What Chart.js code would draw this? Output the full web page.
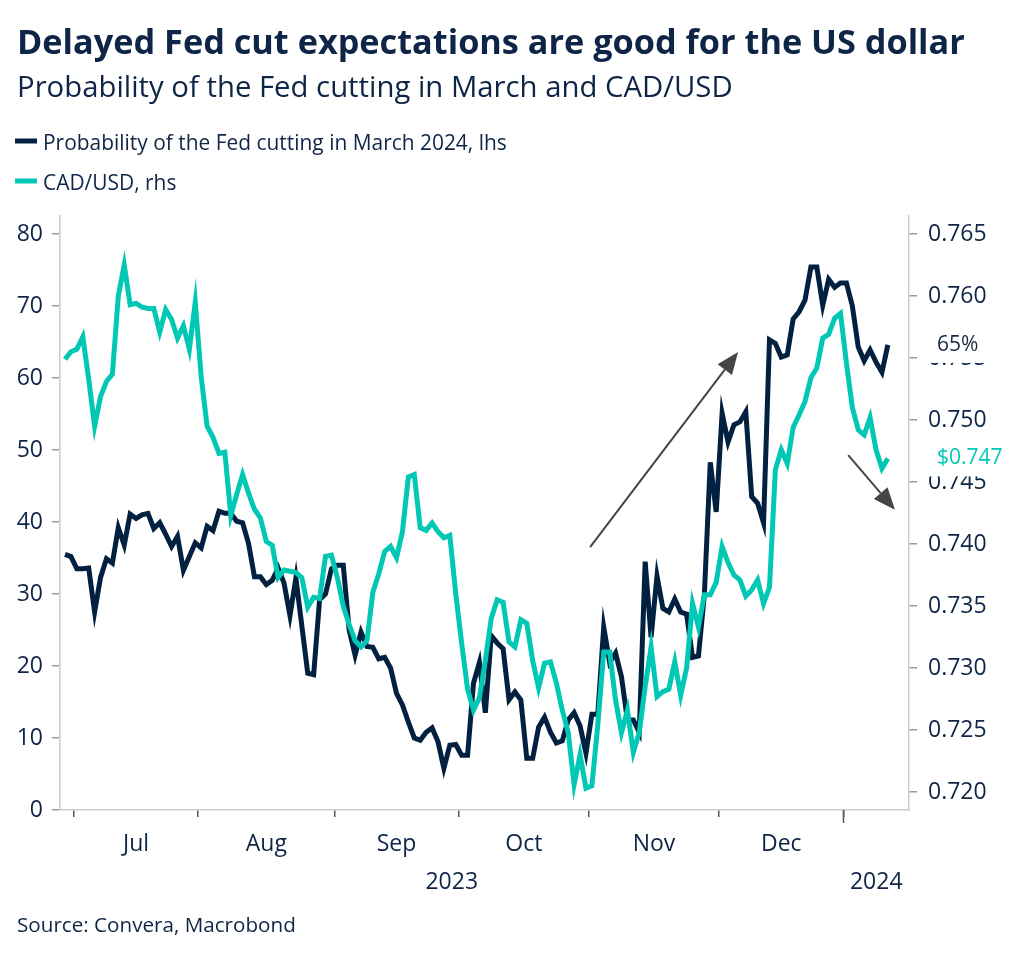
<!DOCTYPE html>
<html>
<head>
<meta charset="utf-8">
<script src="https://cdn.jsdelivr.net/npm/chart.js@4.4.1/dist/chart.umd.min.js"></script>
<style>
  html, body { margin: 0; padding: 0; background: #fff; }
</style>
</head>
<body>
<canvas id="grafico" width="1024" height="958"></canvas>
<script>
var titulo = 'Delayed Fed cut expectations are good for the US dollar';
var subtitulo = 'Probability of the Fed cutting in March and CAD/USD';
var fuente = 'Source: Convera, Macrobond';
var etiquetasSeries = ['Probability of the Fed cutting in March 2024, lhs', 'CAD/USD, rhs'];
var colores = ['#02203f', '#00c8b4'];
var azulTexto = '#0f2548';

var meses = ['Jul', 'Aug', 'Sep', 'Oct', 'Nov', 'Dec'];
var anios = ['2023', '2024'];
var ticksIzq = [0, 10, 20, 30, 40, 50, 60, 70, 80];
var ticksDer = [0.720, 0.725, 0.730, 0.735, 0.740, 0.745, 0.750, 0.755, 0.760, 0.765];

// probabilidad (%) de recorte de la Fed en marzo 2024, dias habiles 29-jun-2023 a 10-ene-2024
var probRecorte = [
  35.5, 35.2, 33.5, 33.5, 33.6, 27.5, 32.3, 34.9, 34.3, 39.2,
  36.8, 41.1, 40.5, 41.0, 41.2, 39.1, 39.9, 38.3, 36.6, 38.0,
  33.3, 35.2, 37.1, 36.4, 39.4, 38.8, 41.5, 41.2, 41.2, 40.1,
  39.9, 37.0, 32.4, 32.4, 31.3, 31.9, 33.6, 31.5, 27.0, 32.2,
  25.6, 19.0, 18.8, 29.2, 30.0, 33.5, 34.0, 34.0, 25.0, 21.5,
  24.7, 22.7, 22.6, 21.0, 21.2, 19.7, 16.2, 14.6, 12.2, 10.0,
  9.7, 10.8, 11.4, 9.5, 5.8, 9.0, 9.1, 7.6, 7.6, 17.6,
  20.5, 13.5, 24.2, 23.2, 22.4, 15.3, 16.4, 15.3, 7.2, 7.2,
  11.5, 12.9, 10.8, 9.3, 9.6, 12.5, 13.5, 11.7, 7.9, 13.3,
  13.3, 25.4, 20.5, 21.8, 18.5, 12.5, 12.5, 10.8, 34.5, 24.0,
  32.5, 28.0, 27.5, 29.3, 27.5, 27.2, 21.2, 21.4, 29.9, 48.3,
  41.4, 55.1, 51.1, 53.5, 53.9, 55.3, 43.5, 42.6, 39.9, 65.3,
  64.8, 62.9, 63.2, 68.2, 69.2, 70.8, 75.4, 75.4, 70.1, 73.7,
  72.6, 73.2, 73.2, 70.0, 64.3, 62.4, 63.9, 62.2, 60.8, 64.6
];

var cadUsd = [
  0.7549, 0.7555, 0.7557, 0.7567, 0.7533, 0.7495, 0.7519, 0.7531, 0.7537, 0.7600,
  0.7625, 0.7593, 0.7594, 0.7591, 0.7590, 0.7590, 0.7571, 0.7589, 0.7581, 0.7566,
  0.7576, 0.7557, 0.7595, 0.7535, 0.7495, 0.7486, 0.7473, 0.7474, 0.7423, 0.7440,
  0.7456, 0.7441, 0.7428, 0.7421, 0.7402, 0.7399, 0.7373, 0.7379, 0.7378, 0.7377,
  0.7373, 0.7349, 0.7357, 0.7356, 0.7390, 0.7391, 0.7373, 0.7350, 0.7335, 0.7322,
  0.7317, 0.7322, 0.7361, 0.7376, 0.7394, 0.7398, 0.7389, 0.7410, 0.7454, 0.7456,
  0.7413, 0.7411, 0.7417, 0.7410, 0.7405, 0.7407, 0.7360, 0.7320, 0.7283, 0.7266,
  0.7276, 0.7306, 0.7340, 0.7355, 0.7353, 0.7321, 0.7317, 0.7339, 0.7336, 0.7306,
  0.7284, 0.7304, 0.7305, 0.7288, 0.7266, 0.7248, 0.7206, 0.7230, 0.7203, 0.7205,
  0.7254, 0.7313, 0.7313, 0.7274, 0.7248, 0.7266, 0.7232, 0.7248, 0.7285, 0.7317,
  0.7277, 0.7281, 0.7283, 0.7305, 0.7278, 0.7300, 0.7352, 0.7333, 0.7359, 0.7359,
  0.7369, 0.7398, 0.7385, 0.7375, 0.7371, 0.7358, 0.7363, 0.7371, 0.7352, 0.7365,
  0.7460, 0.7476, 0.7465, 0.7494, 0.7504, 0.7515, 0.7534, 0.7542, 0.7566, 0.7569,
  0.7582, 0.7586, 0.7546, 0.7510, 0.7492, 0.7488, 0.7502, 0.7476, 0.7461, 0.7469
];

// flechas en coordenadas de datos: [x inicio, y inicio, x fin, y fin] (eje izquierdo)
var flechas = [
  [88.7, 36.5, 113.7, 63.6],
  [132.3, 49.3, 140.2, 41.7]
];

// dias habiles
var fechas = [];
var fin = new Date(Date.UTC(2024, 0, 10));
for (var d = new Date(Date.UTC(2023, 5, 29)); d <= fin; d.setUTCDate(d.getUTCDate() + 1)) {
  var dia = d.getUTCDay();
  if (dia !== 0 && dia !== 6) fechas.push(new Date(d));
}
var limites = [];
for (var i = 1; i < fechas.length; i++) {
  if (fechas[i].getUTCMonth() !== fechas[i - 1].getUTCMonth()) limites.push(i - 0.5);
}

var familia = '"Open Sans", "Noto Sans", sans-serif';

function tamanoAjustado(ctx, texto, peso, ancho) {
  ctx.font = peso + ' 100px ' + familia;
  return 100 * ancho / ctx.measureText(texto).width;
}

function dibujarFlecha(ctx, x1, y1, x2, y2) {
  var ang = Math.atan2(y2 - y1, x2 - x1);
  var largo = 22, ancho = 9;
  var bx = x2 - largo * Math.cos(ang), by = y2 - largo * Math.sin(ang);
  ctx.strokeStyle = '#454545';
  ctx.lineWidth = 2;
  ctx.beginPath();
  ctx.moveTo(x1, y1);
  ctx.lineTo(bx, by);
  ctx.stroke();
  ctx.fillStyle = '#454545';
  ctx.beginPath();
  ctx.moveTo(x2, y2);
  ctx.lineTo(bx + ancho * Math.sin(ang), by - ancho * Math.cos(ang));
  ctx.lineTo(bx - ancho * Math.sin(ang), by + ancho * Math.cos(ang));
  ctx.closePath();
  ctx.fill();
}

var textos = {
  id: 'textos',
  afterDraw: function (chart) {
    var ctx = chart.ctx;
    var area = chart.chartArea;
    var sx = chart.scales.x, sy = chart.scales.y, sy1 = chart.scales.y1;
    ctx.save();
    ctx.textBaseline = 'alphabetic';
    ctx.textAlign = 'left';
    ctx.fillStyle = azulTexto;

    // titulo y subtitulo
    ctx.font = 'bold ' + tamanoAjustado(ctx, titulo, 'bold', 948) + 'px ' + familia;
    ctx.fillText(titulo, 17, 54);
    ctx.font = tamanoAjustado(ctx, subtitulo, 'normal', 716) + 'px ' + familia;
    ctx.fillText(subtitulo, 17, 97);

    // leyenda
    var tamLeyenda = tamanoAjustado(ctx, etiquetasSeries[0], 'normal', 464);
    var yl = [141, 181];
    for (var k = 0; k < 2; k++) {
      ctx.fillStyle = colores[k];
      ctx.fillRect(15, yl[k] - 2.5, 22, 5);
      ctx.fillStyle = azulTexto;
      ctx.font = tamLeyenda + 'px ' + familia;
      ctx.fillText(etiquetasSeries[k], 43, yl[k] + 9);
    }

    // fuente
    ctx.font = tamanoAjustado(ctx, fuente, 'normal', 279) + 'px ' + familia;
    ctx.fillText(fuente, 17, 932);

    // marca larga del cambio de año
    var xa = sx.getPixelForValue(limites[limites.length - 1]);
    ctx.strokeStyle = '#555';
    ctx.lineWidth = 1.5;
    ctx.beginPath();
    ctx.moveTo(xa, area.bottom);
    ctx.lineTo(xa, area.bottom + 13);
    ctx.stroke();

    // meses y años
    ctx.fillStyle = azulTexto;
    ctx.textAlign = 'center';
    ctx.font = '23px ' + familia;
    for (var m = 0; m < meses.length; m++) {
      var xc = (sx.getPixelForValue(limites[m]) + sx.getPixelForValue(limites[m + 1])) / 2;
      ctx.fillText(meses[m], xc, 851);
    }
    ctx.fillText(anios[0], (area.left + xa) / 2, 889);
    ctx.fillText(anios[1], (xa + area.right) / 2, 889);

    // flechas
    flechas.forEach(function (f) {
      dibujarFlecha(ctx, sx.getPixelForValue(f[0]), sy.getPixelForValue(f[1]),
        sx.getPixelForValue(f[2]), sy.getPixelForValue(f[3]));
    });

    // ultimos valores junto al eje derecho
    var ultProb = probRecorte[probRecorte.length - 1];
    var ultCad = cadUsd[cadUsd.length - 1];
    var etiquetasFinal = [
      [Math.round(ultProb) + '%', sy.getPixelForValue(ultProb), colores[0]],
      ['$' + ultCad.toFixed(3), sy1.getPixelForValue(ultCad), colores[1]]
    ];
    ctx.textAlign = 'left';
    ctx.textBaseline = 'middle';
    ctx.font = '21px ' + familia;
    etiquetasFinal.forEach(function (e) {
      ctx.fillStyle = '#ffffff';
      ctx.fillRect(area.right + 12, e[1] - 18, 100, 36);
      ctx.fillStyle = e[2] === colores[0] ? '#1a2a44' : e[2];
      ctx.fillText(e[0], 937, e[1]);
    });
    ctx.restore();
  }
};

var ctx = document.getElementById('grafico');
var grafico = new Chart(ctx, {
  type: 'line',
  data: {
    datasets: [{
      label: etiquetasSeries[0],
      data: probRecorte.map(function (v, i) { return { x: i, y: v }; }),
      borderColor: colores[0],
      borderWidth: 5,
      pointRadius: 0,
      yAxisID: 'y',
      order: 2
    }, {
      label: etiquetasSeries[1],
      data: cadUsd.map(function (v, i) { return { x: i, y: v }; }),
      borderColor: colores[1],
      borderWidth: 5,
      pointRadius: 0,
      yAxisID: 'y1',
      order: 1
    }]
  },
  options: {
    responsive: false,
    animation: false,
    devicePixelRatio: 1,
    layout: { padding: { top: 216, left: 0, right: 0, bottom: 0 } },
    plugins: {
      legend: { display: false },
      tooltip: { enabled: false }
    },
    scales: {
      x: {
        type: 'linear',
        min: -0.85,
        max: 142.57,
        afterBuildTicks: function (s) { s.ticks = limites.map(function (v) { return { value: v }; }); },
        afterFit: function (s) { s.height = 148; },
        ticks: { autoSkip: false, callback: function () { return ''; } },
        grid: { drawOnChartArea: false, drawTicks: true, tickLength: 7, color: '#555', lineWidth: 1.5 },
        border: { display: true, color: '#cccccc', width: 1.5 }
      },
      y: {
        position: 'left',
        min: 0,
        max: 82.5,
        afterBuildTicks: function (s) { s.ticks = ticksIzq.map(function (v) { return { value: v }; }); },
        afterFit: function (s) { s.width = 60; },
        ticks: { color: azulTexto, font: { family: familia, size: 23 }, padding: 9 },
        grid: { drawOnChartArea: false, tickLength: 8, color: '#999', lineWidth: 1.5 },
        border: { display: true, color: '#cccccc', width: 1.5 }
      },
      y1: {
        position: 'right',
        min: 0.71855,
        max: 0.76645,
        afterBuildTicks: function (s) { s.ticks = ticksDer.map(function (v) { return { value: v }; }); },
        afterFit: function (s) { s.width = 115; },
        ticks: {
          color: azulTexto, font: { family: familia, size: 23 }, padding: 11,
          callback: function (v) { return v.toFixed(3); }
        },
        grid: { drawOnChartArea: false, tickLength: 8, color: '#999', lineWidth: 1.5 },
        border: { display: true, color: '#cccccc', width: 1.5 }
      }
    }
  },
  plugins: [textos]
});
</script>
</body>
</html>
